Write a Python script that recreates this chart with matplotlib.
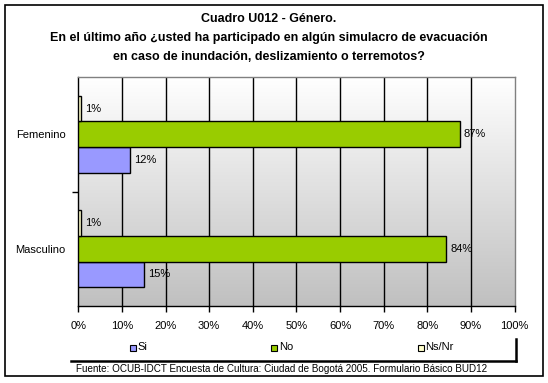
import numpy as np
import matplotlib
matplotlib.use("Agg")
import matplotlib.pyplot as plt
from matplotlib.colors import LinearSegmentedColormap
from matplotlib.patches import Rectangle
from matplotlib.lines import Line2D

plt.rcParams['font.family'] = ['Liberation Sans', 'DejaVu Sans']

categories = ["Masculino", "Femenino"]
series_names = ["Si", "No", "Ns/Nr"]
si_values = [15.1, 11.9]
no_values = [84.4, 87.4]
nsnr_values = [0.7, 0.7]
series_colors = ["#9999FF", "#99CC00", "#FFFFCC"]
x_ticks = list(range(0, 101, 10))
x_tick_labels = [f"{t}%" for t in x_ticks]

title_lines = ["Cuadro U012 - Género.",
               "En el último año ¿usted ha participado en algún simulacro de evacuación",
               "en caso de inundación, deslizamiento o terremotos?"]
footer = "Fuente: OCUB-IDCT Encuesta de Cultura: Ciudad de Bogotá 2005. Formulario Básico BUD12"

W, H = 548, 383
fig = plt.figure(figsize=(W / 100, H / 100), dpi=100)
fig.patch.set_facecolor("white")

def fx(px):
    return px / W

def fy(py):
    return 1 - py / H

# outer border
fig.add_artist(Rectangle((fx(5), fy(376)), fx(538), 371 / H, transform=fig.transFigure,
                         fill=False, edgecolor="black", linewidth=1.2))

ax_l, ax_r, ax_t, ax_b = 78.3, 514.5, 77, 306
ax = fig.add_axes([fx(ax_l), fy(ax_b), fx(ax_r - ax_l), (ax_b - ax_t) / H])

# gradient background: white at top, gray at bottom
cmap = LinearSegmentedColormap.from_list("g", ["#FFFFFF", "#C0C0C0"])
grad = np.linspace(0, 1, 256).reshape(-1, 1)
ax.imshow(grad, extent=[0, 100, -0.5, 1.5], aspect="auto", cmap=cmap, zorder=0,
          interpolation="bicubic", origin="upper")

bh = 0.223
y = np.arange(len(categories))
all_vals = [si_values, no_values, nsnr_values]
offsets = [-bh, 0, bh]
for vals, off, col in zip(all_vals, offsets, series_colors):
    bars = ax.barh(y + off, vals, height=bh, color=col, edgecolor="black", linewidth=1.0, zorder=3)
    for b, v in zip(bars, vals):
        ax.annotate(f"{round(v)}%", xy=(v, b.get_y() + b.get_height() / 2),
                    xytext=(3, 0), textcoords="offset points", va="center", ha="left",
                    fontsize=8, zorder=4)

ax.set_xlim(0, 100)
ax.set_ylim(-0.5, 1.5)
ax.set_xticks(x_ticks)
ax.set_xticklabels(x_tick_labels, fontsize=8)
for t in x_ticks[1:-1]:
    ax.axvline(t, color="black", linewidth=1.0, zorder=1)
ax.tick_params(axis="x", direction="out", length=4, width=1, pad=7)
ax.set_yticks(y)
ax.set_yticklabels(categories, fontsize=8)
ax.tick_params(axis="y", which="major", length=0, pad=9)
ax.set_yticks([0.5], minor=True)
ax.tick_params(axis="y", which="minor", direction="out", length=4, width=1)

for s in ["left", "bottom"]:
    ax.spines[s].set_color("black")
    ax.spines[s].set_linewidth(1.0)
for s in ["top", "right"]:
    ax.spines[s].set_color("#808080")
    ax.spines[s].set_linewidth(1.0)

# title
title_y = [19, 38, 57]
for line, ty in zip(title_lines, title_y):
    fig.text(fx(269), fy(ty), line, ha="center", va="center", fontsize=9, fontweight="bold")

# legend
leg_x = [132.5, 274, 420.5]
leg_y = 347.5
sq = 6
for name, col, lx in zip(series_names, series_colors, leg_x):
    fig.add_artist(Rectangle((fx(lx - sq / 2), fy(leg_y + sq / 2)), fx(sq), sq / H,
                             transform=fig.transFigure, facecolor=col, edgecolor="black", linewidth=0.8))
    fig.text(fx(lx + 5), fy(leg_y), name, ha="left", va="center", fontsize=8)

fig.add_artist(Line2D([fx(71), fx(516)], [fy(361), fy(361)], transform=fig.transFigure,
                      color="black", linewidth=1.8))
fig.add_artist(Line2D([fx(516), fx(516)], [fy(361), fy(339)], transform=fig.transFigure,
                      color="black", linewidth=1.8))

fig.text(fx(76), fy(369), footer, ha="left", va="center", fontsize=7.1)

fig.savefig("out.png", dpi=100)
